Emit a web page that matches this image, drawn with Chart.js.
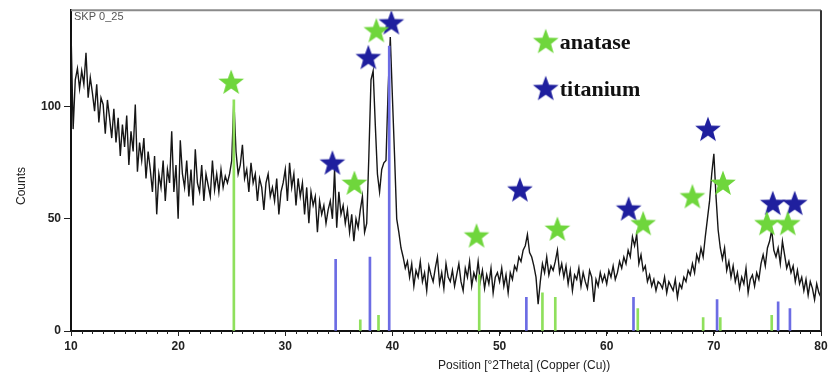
<!DOCTYPE html>
<html>
<head>
<meta charset="utf-8">
<script src="https://cdn.jsdelivr.net/npm/chart.js@4"></script>
<style>
  html, body { margin: 0; padding: 0; background: #fff; }
  #wrap { width: 832px; height: 376px; }
</style>
</head>
<body>
<div id="wrap"><canvas id="xrd"></canvas></div>
<script>
// scan: 10 - 80 deg 2theta, 0.2 deg step
var startAngle = 10;
var stepAngle = 0.2;
var counts = [
    134, 90, 112, 117, 108, 116, 110, 124, 104, 113,
    106, 98, 110, 93, 104, 101, 88, 103, 95, 86,
    99, 84, 95, 78, 92, 82, 96, 74, 89, 80,
    101, 71, 84, 76, 86, 68, 80, 72, 62, 78,
    52, 70, 64, 76, 58, 72, 66, 89, 62, 74,
    50, 85, 70, 64, 76, 60, 72, 56, 81, 66,
    62, 74, 58, 70, 65, 60, 76, 63, 70, 62,
    72, 64, 69, 66, 70, 76, 103, 80, 70, 74,
    83, 68, 72, 62, 75, 66, 70, 58, 68, 64,
    54, 66, 70, 60, 64, 58, 68, 52, 62, 66,
    72, 58, 75, 64, 70, 56, 68, 60, 66, 52,
    64, 48, 62, 56, 60, 44, 58, 52, 56, 48,
    54, 58, 50, 72, 46, 62, 52, 56, 48, 54,
    44, 52, 40, 50, 46, 54, 60, 44, 48, 78,
    112, 116, 92, 70, 62, 72, 75, 76, 108, 131,
    104, 78, 50, 44, 37, 33, 28, 31, 24, 30,
    20, 27, 24, 31, 22, 26, 18, 29, 25, 22,
    28, 33, 21, 26, 19, 30, 24, 22, 27, 20,
    25, 30, 22, 18, 28, 24, 31, 20, 26, 23,
    31, 22, 27, 19, 25, 21, 28, 17, 24, 26,
    22, 28, 20, 25, 17, 26, 23, 29, 27, 33,
    31, 36, 38, 43, 35, 33, 29, 24, 12, 22,
    30, 26, 33, 25, 29, 27, 31, 36, 26, 30,
    24, 29, 21, 27, 18, 25, 23, 28, 20, 26,
    22, 19, 27, 24, 13, 23, 20, 26, 22, 25,
    21, 27, 24, 29, 23, 26, 31, 28, 33, 30,
    36, 33, 42, 38, 43, 30, 34, 27, 29, 22,
    25, 20, 23, 18, 22, 21, 19, 24, 17, 22,
    20, 18, 23, 15, 21, 19, 24, 22, 27, 25,
    30, 26, 34, 31, 37, 33, 42, 50, 58, 70,
    79, 60, 45, 37, 32, 37, 27, 31, 24, 29,
    22, 26, 19, 24, 21, 28, 17, 23, 25, 20,
    26, 23, 30, 34, 29, 37, 40, 45, 36, 33,
    37, 30, 40, 34, 28, 31, 26, 29, 22, 27,
    21, 24, 18, 23, 16, 22, 19, 14, 21, 17,
    15
];

// reference patterns (sticks)
var anataseRefPos = [25.2, 37.0, 38.7, 48.1, 54.0, 55.2, 62.9, 69.0, 70.6, 75.4];
var anataseRefCounts = [103, 5, 7, 25, 17, 15, 10, 6, 6, 7];
var titaniumRefPos = [34.7, 37.9, 39.7, 52.5, 62.5, 70.3, 76.0, 77.1];
var titaniumRefCounts = [32, 33, 127, 15, 15, 14, 13, 10];

// star markers
var anataseStarPos = [24.95, 38.5, 36.45, 47.85, 55.4, 63.4, 68.0, 70.85, 74.95, 76.9];
var anataseStarCounts = [111, 134, 66, 42.5, 45.5, 48, 60, 66, 48, 48];
var titaniumStarPos = [39.9, 37.75, 34.4, 51.9, 62.05, 69.45, 75.5, 77.55];
var titaniumStarCounts = [137.5, 122, 75, 63, 54.5, 90, 57, 57];

var xTicks = [10, 20, 30, 40, 50, 60, 70, 80];
var yTicks = [0, 50, 100];

var sampleName = 'SKP 0_25';
var phaseNames = ['anatase', 'titanium'];
var xTitle = 'Position [°2Theta] (Copper (Cu))';
var yTitle = 'Counts';

var green = '#6fd63c';
var blue = '#1f1f9e';

function makeStar(color) {
    var c = document.createElement('canvas');
    c.width = 28;
    c.height = 28;
    var g = c.getContext('2d');
    g.fillStyle = color;
    g.beginPath();
    for (var i = 0; i < 10; i++) {
        var r = i % 2 === 0 ? 13.5 : 5.6;
        var a = -Math.PI / 2 + i * Math.PI / 5;
        var px = 14 + r * Math.cos(a);
        var py = 15 + r * Math.sin(a);
        if (i === 0) g.moveTo(px, py); else g.lineTo(px, py);
    }
    g.closePath();
    g.fill();
    return c;
}
var greenStar = makeStar(green);
var blueStar = makeStar(blue);

function pairs(xs, ys) {
    return xs.map(function (x, i) { return { x: x, y: ys[i] }; });
}

var scan = counts.map(function (c, i) {
    return { x: Math.round((startAngle + i * stepAngle) * 100) / 100, y: c };
});

var extras = {
    id: 'extras',
    afterDraw: function (chart) {
        var ctx = chart.ctx;
        var a = chart.chartArea;
        var xs = chart.scales.x;
        ctx.save();
        // frame top / right
        ctx.strokeStyle = '#8a8a8a';
        ctx.lineWidth = 2;
        ctx.beginPath();
        ctx.moveTo(a.left, a.top);
        ctx.lineTo(a.right, a.top);
        ctx.stroke();
        ctx.strokeStyle = '#333';
        ctx.beginPath();
        ctx.moveTo(a.right, a.top);
        ctx.lineTo(a.right, a.bottom);
        ctx.stroke();
        // minor ticks every degree
        ctx.strokeStyle = '#222';
        ctx.lineWidth = 1;
        for (var v = 10; v <= 80; v++) {
            var px = Math.round(xs.getPixelForValue(v)) + 0.5;
            ctx.beginPath();
            ctx.moveTo(px, a.bottom);
            ctx.lineTo(px, a.bottom + 3);
            ctx.stroke();
        }
        // sample name
        ctx.fillStyle = '#555';
        ctx.font = '11px "Liberation Sans", Arial, sans-serif';
        ctx.textBaseline = 'middle';
        ctx.textAlign = 'left';
        ctx.fillText(sampleName, a.left + 3, a.top + 7);
        // legend
        var lx = a.left + (a.right - a.left) * 0.633;
        var ly = [a.top + 32, a.top + 79];
        var stars = [greenStar, blueStar];
        ctx.font = 'bold 22px "Liberation Serif", "Times New Roman", serif';
        ctx.fillStyle = '#111';
        for (var i = 0; i < 2; i++) {
            ctx.drawImage(stars[i], lx - 14, ly[i] - 15);
            ctx.fillText(phaseNames[i], lx + 14, ly[i] + 1);
        }
        // axis titles
        ctx.font = '12px "Liberation Sans", Arial, sans-serif';
        ctx.fillStyle = '#222';
        ctx.textAlign = 'center';
        ctx.fillText(xTitle, xs.getPixelForValue(52.3), 366);
        ctx.translate(22, 186);
        ctx.rotate(-Math.PI / 2);
        ctx.fillText(yTitle, 0, 0);
        ctx.restore();
    }
};

new Chart(document.getElementById('xrd'), {
    type: 'line',
    data: {
        datasets: [{
            type: 'scatter',
            label: 'anatase',
            data: pairs(anataseStarPos, anataseStarCounts),
            pointStyle: greenStar,
            clip: false,
            order: 0
        }, {
            type: 'scatter',
            label: 'titanium',
            data: pairs(titaniumStarPos, titaniumStarCounts),
            pointStyle: blueStar,
            clip: false,
            order: 0
        }, {
            type: 'bar',
            label: 'anatase ref',
            data: pairs(anataseRefPos, anataseRefCounts),
            backgroundColor: '#8fe05c',
            barThickness: 2,
            grouped: false,
            order: 1
        }, {
            type: 'bar',
            label: 'titanium ref',
            data: pairs(titaniumRefPos, titaniumRefCounts),
            backgroundColor: '#6c6ce4',
            barThickness: 2,
            grouped: false,
            order: 1
        }, {
            label: sampleName,
            data: scan,
            borderColor: '#161616',
            borderWidth: 1.4,
            pointRadius: 0,
            tension: 0,
            order: 2
        }]
    },
    options: {
        responsive: true,
        maintainAspectRatio: false,
        animation: false,
        layout: { padding: { top: 8, right: 11, left: 0, bottom: 0 } },
        plugins: { legend: { display: false }, tooltip: { enabled: false } },
        scales: {
            x: {
                type: 'linear',
                offset: false,
                min: 10,
                max: 80,
                afterFit: function (s) { s.height = 45; },
                afterBuildTicks: function (s) {
                    s.ticks = xTicks.map(function (v) { return { value: v }; });
                },
                grid: { drawOnChartArea: false, offset: false, tickLength: 5, color: '#222' },
                border: { color: '#111', width: 2 },
                ticks: {
                    color: '#222',
                    padding: 3,
                    maxRotation: 0,
                    font: { family: '"Liberation Sans", Arial, sans-serif', size: 12, weight: 'bold' }
                }
            },
            y: {
                min: 0,
                max: 143,
                afterFit: function (s) { s.width = 71; },
                afterBuildTicks: function (s) {
                    s.ticks = yTicks.map(function (v) { return { value: v }; });
                },
                grid: { drawOnChartArea: false, tickLength: 7, color: '#222' },
                border: { color: '#111', width: 2 },
                ticks: {
                    color: '#222',
                    padding: 3,
                    font: { family: '"Liberation Sans", Arial, sans-serif', size: 12, weight: 'bold' }
                }
            }
        }
    },
    plugins: [extras]
});
</script>
</body>
</html>
